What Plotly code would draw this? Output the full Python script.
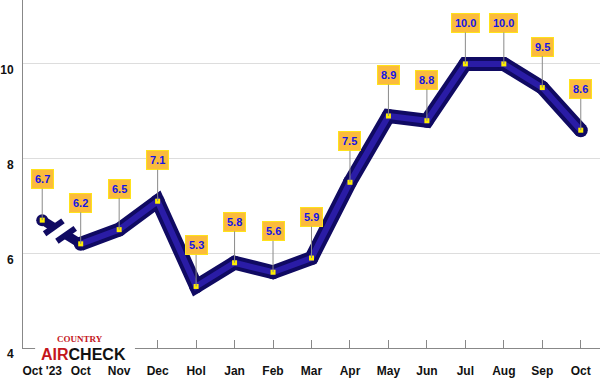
import plotly.graph_objects as go

categories = ["Oct '23", "Oct", "Nov", "Dec", "Hol", "Jan", "Feb", "Mar", "Apr",
              "May", "Jun", "Jul", "Aug", "Sep", "Oct"]
values = [6.7, 6.2, 6.5, 7.1, 5.3, 5.8, 5.6, 5.9, 7.5, 8.9, 8.8, 10.0, 10.0, 9.5, 8.6]
y_ticks = [4, 6, 8, 10]

xs = list(range(len(categories)))
fig = go.Figure()

OUTER = "#100a62"
INNER = "#2a1ca6"

def lerp(t):
    return xs[0] + t * (xs[1] - xs[0]), values[0] + t * (values[1] - values[0])

s1 = [lerp(0), lerp(0.3)]
s2 = [lerp(0.62), lerp(1)]
for seg in (s1, s2):
    fig.add_trace(go.Scatter(x=[p[0] for p in seg], y=[p[1] for p in seg], mode="lines",
                             line=dict(color=OUTER, width=9), hoverinfo="skip"))
fig.add_trace(go.Scatter(x=[s1[1][0], s2[0][0]], y=[s1[1][1], s2[0][1]], mode="markers",
                         marker=dict(symbol="line-ns", size=16, angle=55,
                                     line=dict(color=OUTER, width=6)), hoverinfo="skip"))

main_x = xs[1:]
main_y = values[1:]
fig.add_trace(go.Scatter(x=main_x, y=main_y, mode="lines+markers",
                         line=dict(color=OUTER, width=14),
                         marker=dict(size=14, color=OUTER), hoverinfo="skip", cliponaxis=False))
fig.add_trace(go.Scatter(x=main_x, y=main_y, mode="lines",
                         line=dict(color=INNER, width=6), hoverinfo="skip", cliponaxis=False))
fig.add_trace(go.Scatter(x=[xs[0]], y=[values[0]], mode="markers",
                         marker=dict(size=12, color=OUTER), hoverinfo="skip"))
fig.add_trace(go.Scatter(x=xs, y=values, mode="markers",
                         marker=dict(symbol="square", size=5, color="#ffee00",
                                     line=dict(width=0)), hoverinfo="skip", cliponaxis=False))

for x, v in zip(xs, values):
    fig.add_annotation(x=x, y=v, text=f"<b>{v:.1f}</b>", showarrow=True,
                       ax=0, ay=-41, arrowhead=0, arrowwidth=1, arrowcolor="#8a8a8a",
                       standoff=0, bgcolor="#fbbb3c", bordercolor="#ffe21a", borderwidth=1,
                       borderpad=3,
                       font=dict(family="Liberation Sans Narrow, Liberation Sans, Arial", size=11,
                                 color="#1414e6"))

# logo
fig.add_shape(type="rect", xref="paper", yref="paper", x0=0.021, x1=0.194, y0=-0.008, y1=0.035,
              fillcolor="white", line=dict(width=0), layer="above")
fig.add_annotation(xref="paper", yref="paper", x=0.055, xanchor="left", y=0.026, yanchor="middle",
                   text="<b>COUNTRY</b>", showarrow=False,
                   font=dict(family="Liberation Serif", size=9, color="#c4161c"))
fig.add_annotation(xref="paper", yref="paper", x=0.028, xanchor="left", y=-0.02, yanchor="middle",
                   text="<b><span style='color:#c4161c'>AIR</span>CHECK</b>",
                   showarrow=False, font=dict(family="Liberation Sans", size=16, color="#111111"))

fig.update_xaxes(range=[-0.5, 14.5], tickmode="array", tickvals=xs,
                 ticktext=[f"<b>{c}</b>" for c in categories],
                 ticks="inside", ticklen=8, tickcolor="#888888", showline=True,
                 linecolor="#888888", linewidth=1, showgrid=False, zeroline=False,
                 automargin=False, ticklabelstandoff=12,
                 tickfont=dict(family="Liberation Sans Narrow, Liberation Sans", size=12, color="#111"))
fig.update_yaxes(range=[4, 11.35], tickmode="array", tickvals=y_ticks,
                 ticktext=[f"<b>{t}</b>" for t in y_ticks], showline=True,
                 linecolor="#888888", linewidth=1, showgrid=True, gridcolor="#dddddd",
                 zeroline=False, ticks="", ticklabelstandoff=6, ticklabelshift=6,
                 automargin=False,
                 tickfont=dict(family="Liberation Sans", size=12, color="#111"))

fig.update_layout(width=600, height=381, margin=dict(l=23, r=0, t=0, b=33, autoexpand=False),
                  paper_bgcolor="white", plot_bgcolor="white", showlegend=False)

fig.write_html("out.html", config={"displayModeBar": False},
               post_script="document.body.style.margin='0px';")
